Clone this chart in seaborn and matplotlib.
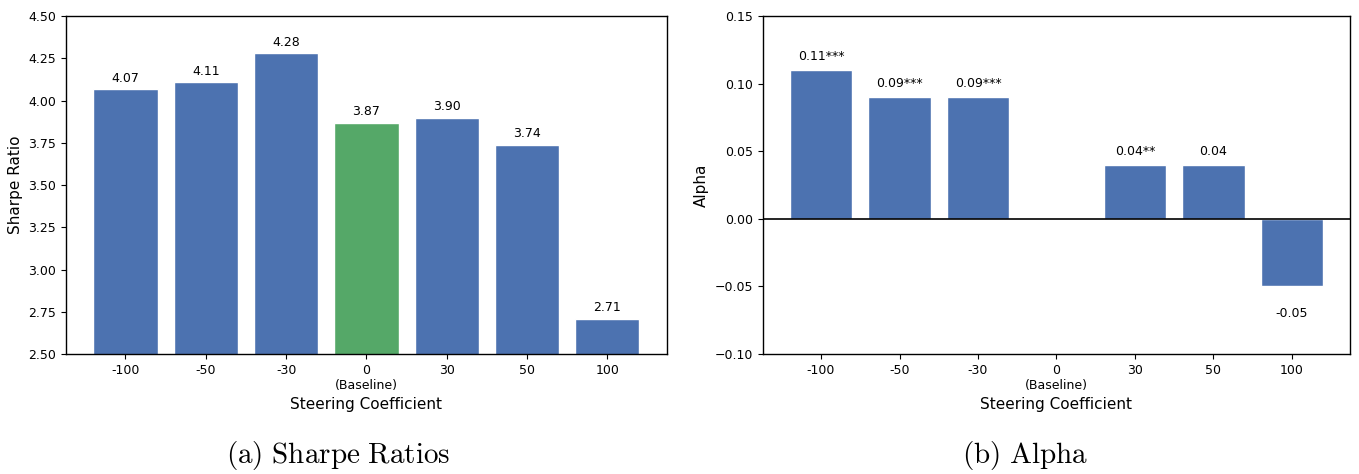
import numpy as np
import pandas as pd
import seaborn as sns
import matplotlib.pyplot as plt

coefficients = ["-100", "-50", "-30", "0\n(Baseline)", "30", "50", "100"]
sharpe = [4.07, 4.11, 4.28, 3.87, 3.90, 3.74, 2.71]
alpha = [0.11, 0.09, 0.09, 0.0, 0.04, 0.04, -0.05]
alpha_labels = ["0.11***", "0.09***", "0.09***", "", "0.04**", "0.04", "-0.05"]
is_baseline = ["no", "no", "no", "yes", "no", "no", "no"]

blue = "#4c72b0"
green = "#55a868"

sns.set_style("ticks", {"text.color": "black", "axes.labelcolor": "black",
                        "xtick.color": "black", "ytick.color": "black",
                        "axes.edgecolor": "black"})
plt.rcParams["mathtext.fontset"] = "cm"

fig = plt.figure(figsize=(13.59, 4.74), dpi=100)
ax1 = fig.add_axes([0.0486, 0.253, 0.442, 0.713])
ax2 = fig.add_axes([0.5614, 0.253, 0.432, 0.713])

df = pd.DataFrame({"coef": coefficients, "sharpe": sharpe, "alpha": alpha,
                   "base": is_baseline})

# left panel: sharpe ratios
sns.barplot(data=df, x="coef", y="sharpe", hue="base",
            palette={"no": blue, "yes": green}, dodge=False, legend=False,
            width=0.8, saturation=1, ax=ax1)
ax1.set_ylim(2.5, 4.5)
ax1.set_yticks(np.arange(2.5, 4.51, 0.25))
ax1.set_ylabel("Sharpe Ratio", fontsize=11)
ax1.set_xlabel("Steering Coefficient", fontsize=11)
for i, v in enumerate(sharpe):
    ax1.text(i, v + 0.025, f"{v:.2f}", ha="center", va="bottom", fontsize=9)

# right panel: alpha
sns.barplot(data=df, x="coef", y="alpha", color=blue, width=0.8,
            saturation=1, ax=ax2)
ax2.axhline(0, color="black", linewidth=1.2)
ax2.set_ylim(-0.1, 0.15)
ax2.set_yticks(np.arange(-0.1, 0.151, 0.05))
ax2.set_ylabel("Alpha", fontsize=11)
ax2.set_xlabel("Steering Coefficient", fontsize=11)
for i, v in enumerate(alpha):
    if alpha_labels[i] == "":
        continue
    if v >= 0:
        ax2.text(i, v + 0.005, alpha_labels[i], ha="center", va="bottom", fontsize=9)
    else:
        ax2.text(i, v - 0.015, alpha_labels[i], ha="center", va="top", fontsize=9)

for ax in (ax1, ax2):
    ax.set_xlim(-0.74, 6.74)
    ax.tick_params(labelsize=9, length=3.5)
    for s in ax.spines.values():
        s.set_visible(True)
        s.set_color("black")
        s.set_linewidth(1.0)

fig.text(0.249, 0.04, r"$\mathrm{(a)\ Sharpe\ Ratios}$", ha="center", va="center", fontsize=21)
fig.text(0.754, 0.04, r"$\mathrm{(b)\ Alpha}$", ha="center", va="center", fontsize=21)

plt.savefig("out.png", format="png", dpi=100)
